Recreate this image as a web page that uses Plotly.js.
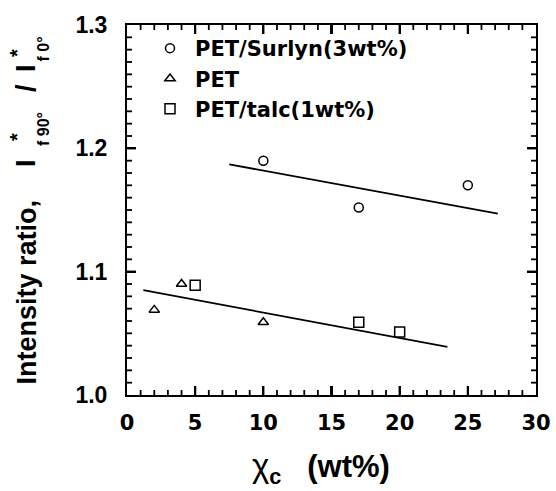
<!DOCTYPE html>
<html>
<head>
<meta charset="utf-8">
<script src="https://cdn.plot.ly/plotly-3.0.1.min.js"></script>
<style>html,body{margin:0;padding:0;background:#fff;}#chart{width:556px;height:491px;}</style>
</head>
<body>
<div id="chart"></div>
<script>
// Data
const surlynX = [10, 17, 25];
const surlynY = [1.190, 1.152, 1.170];
const petX = [2, 4, 10];
const petY = [1.069, 1.090, 1.059];
const talcX = [5, 17, 20];
const talcY = [1.089, 1.059, 1.051];
const fitUpperX = [7.5, 27.2];
const fitUpperY = [1.187, 1.147];
const fitLowerX = [1.2, 23.5];
const fitLowerY = [1.085, 1.039];
const seriesNames = ['PET/Surlyn(3wt%)', 'PET', 'PET/talc(1wt%)'];
const xRange = [0, 30];
const yRange = [1.0, 1.3];
const xMajorStep = 5, xMinorStep = 1;
const yMajorStep = 0.1, yMinorStep = 0.01;

const FONT = 'Liberation Sans, Arial, sans-serif';
const WIDE = 'DejaVu Sans, Liberation Sans, sans-serif';
const W = 556, H = 491;
const L = 127, R = 20, T = 25, B = 96;
const pw = W - L - R, ph = H - T - B;
const px = v => (v - L) / pw;
const py = v => (H - B - v) / ph;

const mk = (sym, size) => ({symbol: sym, size: size, color: 'black', line: {color: 'black', width: 1.5}});

// Inward tick marks on all four sides, built from the axis range and tick steps
const xPerPx = (xRange[1] - xRange[0]) / pw;
const yPerPx = (yRange[1] - yRange[0]) / ph;
const majX = [], majY = [], minX = [], minY = [];
const nx = Math.round((xRange[1] - xRange[0]) / xMinorStep);
for (let i = 1; i < nx; i++) {
  const v = xRange[0] + i * xMinorStep;
  const major = i % Math.round(xMajorStep / xMinorStep) === 0;
  const len = (major ? 9 : 5) * yPerPx;
  const tx = major ? majX : minX, ty = major ? majY : minY;
  tx.push(v, v, null, v, v, null);
  ty.push(yRange[0], yRange[0] + len, null, yRange[1], yRange[1] - len, null);
}
const ny = Math.round((yRange[1] - yRange[0]) / yMinorStep);
for (let i = 1; i < ny; i++) {
  const v = yRange[0] + i * yMinorStep;
  const major = i % Math.round(yMajorStep / yMinorStep) === 0;
  const len = (major ? 9 : 5) * xPerPx;
  const tx = major ? majX : minX, ty = major ? majY : minY;
  tx.push(xRange[0], xRange[0] + len, null, xRange[1], xRange[1] - len, null);
  ty.push(v, v, null, v, v, null);
}

const traces = [
  {x: surlynX, y: surlynY, mode: 'markers', name: seriesNames[0], marker: mk('circle-open', 9)},
  {x: petX, y: petY, mode: 'markers', name: seriesNames[1], marker: mk('triangle-up-open', 9)},
  {x: talcX, y: talcY, mode: 'markers', name: seriesNames[2], marker: mk('square-open', 10)},
  {x: fitUpperX, y: fitUpperY, mode: 'lines', showlegend: false, line: {color: 'black', width: 1.8}},
  {x: fitLowerX, y: fitLowerY, mode: 'lines', showlegend: false, line: {color: 'black', width: 1.8}},
  {x: majX, y: majY, mode: 'lines', showlegend: false, hoverinfo: 'skip', connectgaps: false, cliponaxis: false, line: {color: 'black', width: 2.2}},
  {x: minX, y: minY, mode: 'lines', showlegend: false, hoverinfo: 'skip', connectgaps: false, cliponaxis: false, line: {color: 'black', width: 1.8}}
];

const ann = (text, x, y, size, xa, ya, fam) => ({
  text: text, xref: 'paper', yref: 'paper', x: px(x), y: py(y), showarrow: false,
  textangle: -90, xanchor: xa || 'center', yanchor: ya || 'middle',
  font: {family: fam || FONT, size: size, color: 'black', weight: 'bold'}
});

const layout = {
  width: W, height: H,
  margin: {l: L, r: R, t: T, b: B},
  paper_bgcolor: 'white', plot_bgcolor: 'white',
  showlegend: true,
  legend: {x: px(145), y: py(28), xanchor: 'left', yanchor: 'top', bgcolor: 'rgba(0,0,0,0)',
           font: {family: WIDE, size: 21, color: 'black', weight: 'bold'}, itemwidth: 40},
  xaxis: {
    range: xRange, dtick: xMajorStep, tick0: 0, showgrid: false, zeroline: false,
    showline: true, linecolor: 'black', linewidth: 2.2, mirror: 'ticks', ticks: 'inside', ticklen: 9, tickwidth: 2.2, tickcolor: 'black',
    tickfont: {family: WIDE, size: 21, color: 'black', weight: 'bold'}, ticklabelstandoff: 8
  },
  yaxis: {
    range: yRange, dtick: yMajorStep, tick0: 1.0, tickformat: '.1f', showgrid: false, zeroline: false,
    showline: true, linecolor: 'black', linewidth: 2.2, mirror: 'ticks', ticks: 'inside', ticklen: 9, tickwidth: 2.2, tickcolor: 'black',
    tickfont: {family: FONT, size: 23, color: 'black', weight: 'bold'}, ticksuffix: '  '
  },
  annotations: [
    ann('Intensity ratio,', 26, 387, 27, 'center', 'bottom'),
    ann('I', 26, 163, 27, 'center', 'middle'),
    ann('*', 17, 137, 20, 'center', 'middle'),
    ann('f 90°', 43, 148, 16, 'center', 'bottom'),
    ann('/', 26, 88, 27, 'center', 'middle'),
    ann('I', 26, 68, 27, 'center', 'middle'),
    ann('*', 17, 53, 20, 'center', 'middle'),
    ann('f 0°', 43, 64, 16, 'center', 'bottom'),
    {text: '<span style="font-weight:normal;font-size:33px">χ</span><sub>c</sub>&nbsp;&nbsp; (wt%)',
     xref: 'paper', yref: 'paper', x: px(250), y: py(468), xanchor: 'left', yanchor: 'middle', showarrow: false,
     font: {family: FONT, size: 31, color: 'black', weight: 'bold'}}
  ]
};

Plotly.newPlot('chart', traces, layout, {displayModeBar: false, staticPlot: true});
</script>
</body>
</html>
